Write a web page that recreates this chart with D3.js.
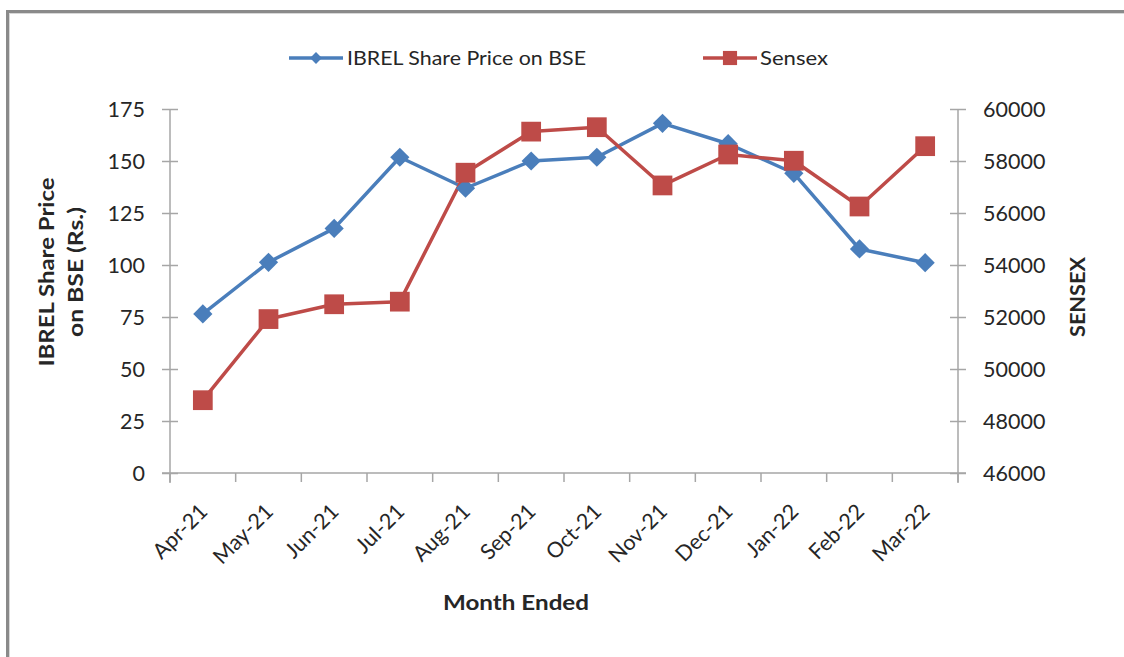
<!DOCTYPE html>
<html>
<head>
<meta charset="utf-8">
<script src="https://cdn.jsdelivr.net/npm/d3@7/dist/d3.min.js"></script>
<style>
  html, body { margin: 0; padding: 0; background: #fff; }
  svg { display: block; }
  text { font-family: Lato, "Open Sans", sans-serif; fill: #262626; }
</style>
</head>
<body>
<svg id="chart" width="1124" height="657"></svg>
<script>
const months = ["Apr-21","May-21","Jun-21","Jul-21","Aug-21","Sep-21","Oct-21","Nov-21","Dec-21","Jan-22","Feb-22","Mar-22"];
const ibrelPrice = [76.5, 101.3, 117.6, 151.8, 136.9, 150.0, 151.8, 168.1, 158.3, 144.1, 107.7, 101.1];
const sensex = [48800, 51920, 52490, 52590, 57550, 59130, 59300, 57060, 58250, 58010, 56250, 58570];
const leftTicks = [0, 25, 50, 75, 100, 125, 150, 175];
const rightTicks = [46000, 48000, 50000, 52000, 54000, 56000, 58000, 60000];
const seriesNames = ["IBREL Share Price on BSE", "Sensex"];
const seriesColors = ["#4A7EBB", "#BE4B48"];

const svg = d3.select("#chart");
const plot = { left: 170, right: 958, top: 109, bottom: 473 };

// outer frame
svg.append("rect").attr("x", 7.5).attr("y", 11.5).attr("width", 1124).attr("height", 700)
  .attr("fill", "none").attr("stroke", "#8a8a8a").attr("stroke-width", 3);
svg.append("rect").attr("x", 9.5).attr("y", 13.5).attr("width", 1124).attr("height", 700)
  .attr("fill", "none").attr("stroke", "#d8d8d8").attr("stroke-width", 1);

const x = d3.scaleBand().domain(months).range([plot.left, plot.right]);
const yL = d3.scaleLinear().domain([0, 175]).range([plot.bottom, plot.top]);
const yR = d3.scaleLinear().domain([46000, 60000]).range([plot.bottom, plot.top]);

const axisColor = "#a6a6a6";
const tickFont = "21.5px";

// left axis
const gL = svg.append("g").attr("transform", `translate(${plot.left},0)`)
  .call(d3.axisLeft(yL).tickValues(leftTicks).tickSize(0).tickPadding(25));
gL.select(".domain").attr("stroke", axisColor).attr("stroke-width", 1.5)
  .attr("d", `M0,${plot.top}V${plot.bottom + 10}`);
gL.selectAll(".tick").append("line").attr("x1", -8).attr("x2", 8)
  .attr("stroke", axisColor).attr("stroke-width", 1.5);
gL.selectAll(".tick text").style("font-size", tickFont).attr("fill", "#262626").attr("dy", "0.35em");

// right axis
const gR = svg.append("g").attr("transform", `translate(${plot.right},0)`)
  .call(d3.axisRight(yR).tickValues(rightTicks).tickSize(0).tickPadding(25).tickFormat(d3.format("d")));
gR.select(".domain").attr("stroke", axisColor).attr("stroke-width", 1.5)
  .attr("d", `M0,${plot.top}V${plot.bottom + 10}`);
gR.selectAll(".tick").append("line").attr("x1", -8).attr("x2", 8)
  .attr("stroke", axisColor).attr("stroke-width", 1.5);
gR.selectAll(".tick text").style("font-size", tickFont).attr("fill", "#262626").attr("dy", "0.35em");

// bottom axis
const gB = svg.append("g").attr("transform", `translate(0,${plot.bottom})`)
  .call(d3.axisBottom(x).tickSize(0).tickFormat(""));
gB.select(".domain").attr("stroke", axisColor).attr("stroke-width", 1.5)
  .attr("d", `M${plot.left - 8},0H${plot.right + 8}`);
gB.selectAll(".tick").remove();
const bounds = months.map(m => x(m)).concat([plot.right]);
gB.selectAll(".btick").data(bounds).enter().append("line")
  .attr("x1", d => d).attr("x2", d => d).attr("y1", 0).attr("y2", 9)
  .attr("stroke", axisColor).attr("stroke-width", 1.5);
gB.selectAll(".blabel").data(months).enter().append("text")
  .attr("transform", d => `translate(${x(d) + x.bandwidth() / 2 + 6},${40}) rotate(-45)`)
  .attr("text-anchor", "end")
  .style("font-size", "21.5px")
  .text(d => d);

// axis titles
const lt = svg.append("text").attr("transform", "translate(54,272) rotate(-90)")
  .attr("text-anchor", "middle").style("font-size", "21px").style("font-weight", "bold");
lt.append("tspan").attr("x", 0).attr("dy", 0).attr("textLength", 189).attr("lengthAdjust", "spacingAndGlyphs").text("IBREL Share Price");
lt.append("tspan").attr("x", 0).attr("dy", 29).attr("textLength", 130).attr("lengthAdjust", "spacingAndGlyphs").text("on BSE (Rs.)");

svg.append("text").attr("transform", "translate(1085,297) rotate(-90)")
  .attr("text-anchor", "middle").style("font-size", "21px").style("font-weight", "bold")
  .attr("textLength", 80).attr("lengthAdjust", "spacingAndGlyphs")
  .text("SENSEX");

svg.append("text").attr("x", 516).attr("y", 610).attr("text-anchor", "middle")
  .style("font-size", "21px").style("font-weight", "bold")
  .attr("textLength", 146).attr("lengthAdjust", "spacingAndGlyphs").text("Month Ended");

// lines
const cx = d => x(d) + x.bandwidth() / 2;
const lineL = d3.line().x((d, i) => cx(months[i])).y(d => yL(d));
const lineR = d3.line().x((d, i) => cx(months[i])).y(d => yR(d));

svg.append("path").datum(ibrelPrice).attr("d", lineL).attr("fill", "none")
  .attr("stroke", seriesColors[0]).attr("stroke-width", 3.5).attr("stroke-linejoin", "round");
svg.append("path").datum(sensex).attr("d", lineR).attr("fill", "none")
  .attr("stroke", seriesColors[1]).attr("stroke-width", 3.5).attr("stroke-linejoin", "round");

svg.selectAll(".mL").data(ibrelPrice).enter().append("path")
  .attr("d", d3.symbol().type(d3.symbolSquare).size(185))
  .attr("transform", (d, i) => `translate(${cx(months[i])},${yL(d)}) rotate(45)`)
  .attr("fill", seriesColors[0]);
svg.selectAll(".mR").data(sensex).enter().append("path")
  .attr("d", d3.symbol().type(d3.symbolSquare).size(390))
  .attr("transform", (d, i) => `translate(${cx(months[i])},${yR(d)})`)
  .attr("fill", seriesColors[1]);

// legend
const legendPos = [{ lx: 289, tx: 347, w: 239 }, { lx: 703, tx: 760, w: 68 }];
const lg = svg.append("g");
seriesNames.forEach((name, i) => {
  const p = legendPos[i];
  lg.append("line").attr("x1", p.lx).attr("x2", p.lx + 54).attr("y1", 58).attr("y2", 58)
    .attr("stroke", seriesColors[i]).attr("stroke-width", 3.5);
  if (i === 0) {
    lg.append("path").attr("d", d3.symbol().type(d3.symbolSquare).size(70))
      .attr("transform", `translate(${p.lx + 27},58) rotate(45)`).attr("fill", seriesColors[i]);
  } else {
    lg.append("path").attr("d", d3.symbol().type(d3.symbolSquare).size(200))
      .attr("transform", `translate(${p.lx + 27},58)`).attr("fill", seriesColors[i]);
  }
  lg.append("text").attr("x", p.tx).attr("y", 65).style("font-size", "20px")
    .attr("textLength", p.w).attr("lengthAdjust", "spacingAndGlyphs").text(name);
});
</script>
</body>
</html>
